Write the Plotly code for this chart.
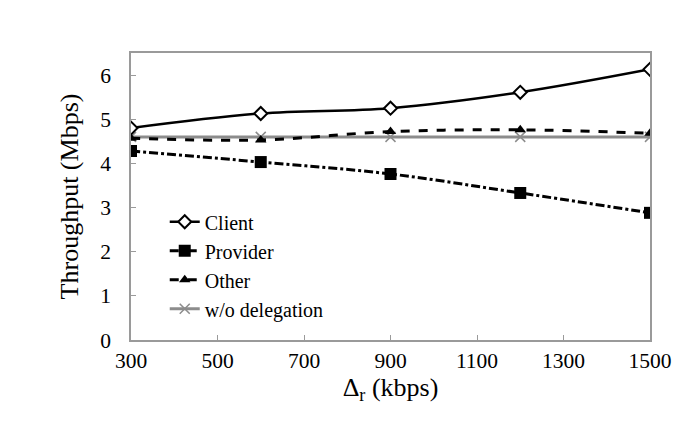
import plotly.graph_objects as go

x_vals = [300, 600, 900, 1200, 1500]
client = [4.80, 5.13, 5.25, 5.61, 6.13]
provider = [4.28, 4.03, 3.76, 3.33, 2.88]
other = [4.57, 4.53, 4.72, 4.76, 4.68]
wo_delegation = [4.60, 4.60, 4.60, 4.60, 4.60]

x_ticks = [300, 500, 700, 900, 1100, 1300, 1500]
y_ticks = [0, 1, 2, 3, 4, 5, 6]

font = "Times New Roman, Liberation Serif, serif"

fig = go.Figure()
fig.add_trace(go.Scatter(x=x_vals, y=wo_delegation, name="w/o delegation", mode="lines+markers",
                         line=dict(color="#8c8c8c", width=3),
                         marker=dict(symbol="x-thin", size=10, line=dict(color="#8c8c8c", width=1.5))))
fig.add_trace(go.Scatter(x=x_vals, y=other, name="Other", mode="lines+markers",
                         line=dict(color="black", width=3, dash="dash", shape="spline"),
                         marker=dict(symbol="triangle-up", size=10, color="black")))
fig.add_trace(go.Scatter(x=x_vals, y=provider, name="Provider", mode="lines+markers",
                         line=dict(color="black", width=3, dash="dashdot", shape="spline"),
                         marker=dict(symbol="square", size=12, color="black")))
fig.add_trace(go.Scatter(x=x_vals, y=client, name="Client", mode="lines+markers",
                         line=dict(color="black", width=2.5, shape="spline"),
                         marker=dict(symbol="diamond", size=10, color="white",
                                     line=dict(color="black", width=2))))

axis_common = dict(showline=True, linecolor="#9a9a9a", linewidth=1.5, mirror=True,
                   showgrid=False, zeroline=False, ticks="inside", tickcolor="#9a9a9a",
                   ticklen=5, tickfont=dict(family=font, size=21.5, color="black"))

fig.update_layout(
    width=685, height=436,
    margin=dict(l=123, r=43, t=45, b=104),
    paper_bgcolor="white", plot_bgcolor="white",
    font=dict(family=font, color="black"),
    xaxis=dict(range=[300, 1500], tickvals=x_ticks, **axis_common, ticklabelstandoff=0,
               title=dict(text="Δ<sub>r</sub> (kbps)", font=dict(family=font, size=26, color="black"), standoff=0)),
    yaxis=dict(range=[0, 6.5], tickvals=y_ticks, **axis_common, ticklabelstandoff=14,
               title=dict(text="Throughput (Mbps)", font=dict(family=font, size=26, color="black"), standoff=14)),
    legend=dict(x=0.065, y=0.48, xanchor="left", yanchor="top", traceorder="reversed",
                bgcolor="rgba(0,0,0,0)", font=dict(family=font, size=20, color="black"),
                itemwidth=30, tracegroupgap=0),
    showlegend=True,
)

fig.write_html("out.html")
